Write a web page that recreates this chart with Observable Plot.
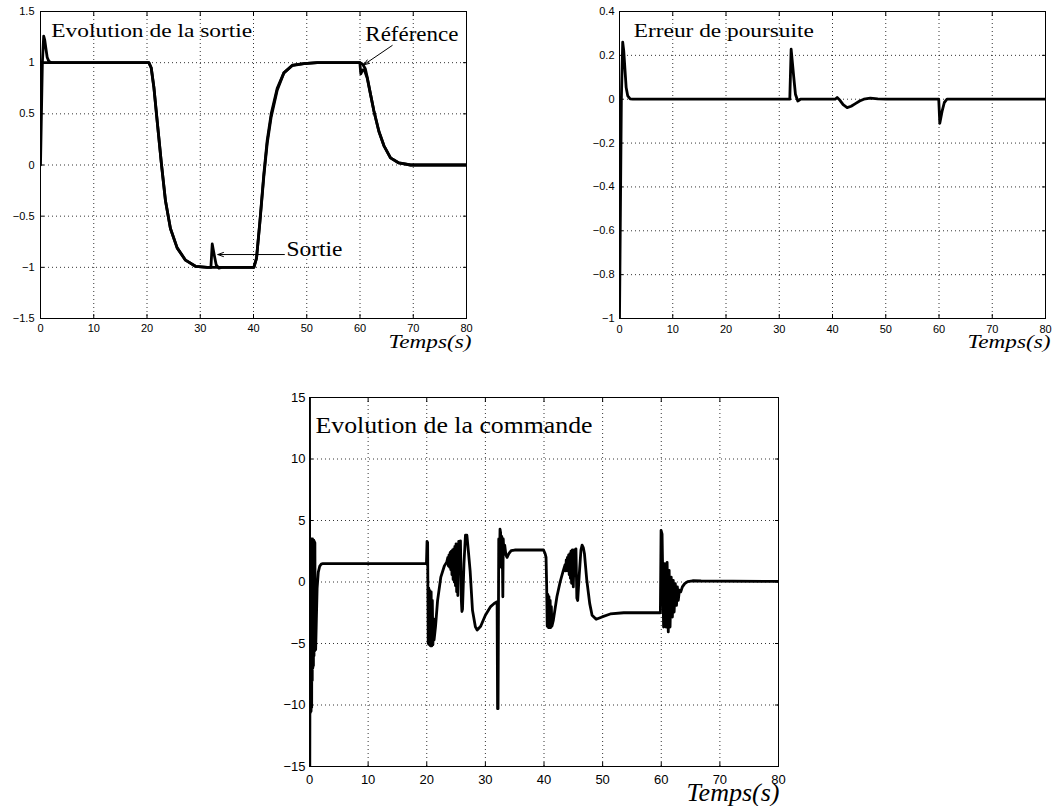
<!DOCTYPE html>
<html><head><meta charset="utf-8">
<script src="https://cdn.jsdelivr.net/npm/d3@7"></script>
<script src="https://cdn.jsdelivr.net/npm/@observablehq/plot@0.6"></script>
<style>
body{margin:0;background:#fff;}
#root{position:relative;width:1054px;height:806px;overflow:hidden;background:#fff;}
#root svg{position:absolute;}
</style></head><body><div id="root"></div>
<script>
// ---------- Ticks ----------
const xTicks = [0, 10, 20, 30, 40, 50, 60, 70, 80];
const sortieYTicks = [-1.5, -1, -0.5, 0, 0.5, 1, 1.5];
const erreurYTicks = [-1, -0.8, -0.6, -0.4, -0.2, 0, 0.2, 0.4];
const commandeYTicks = [-15, -10, -5, 0, 5, 10, 15];

// ---------- Texts ----------
const titleSortie = "Evolution de la sortie";
const titleErreur = "Erreur de poursuite";
const titleCommande = "Evolution de la commande";
const xLabel = "Temps(s)";
const labelReference = "Référence";
const labelSortie = "Sortie";

// ---------- Series: output (sortie) ----------
const sortieT = [0,0.35,0.6,0.8,1.0,1.25,1.55,2.0,2.5,
  20.35,20.79,21.29,21.91,22.73,23.47,24.4,25.66,27.23,29.1,31.3,
  32.0,32.25,32.7,33.0,33.5,34.0,
  40.07,40.57,41.2,41.94,42.57,43.32,44.45,45.7,47.27,49.46,51.96,
  59.97,60.15,60.5,60.8,61.35,61.98,62.6,63.54,64.48,65.73,67.3,69.5,80];
const sortieY = [0,1.0,1.26,1.22,1.145,1.053,1.015,1.002,1.0,
  1.0,0.95,0.76,0.43,0,-0.35,-0.62,-0.81,-0.93,-0.99,-1.0,
  -1.0,-0.772,-0.9,-0.977,-1.008,-1.0,
  -1.0,-0.91,-0.56,-0.11,0.21,0.47,0.73,0.9,0.975,0.99,1.0,
  1.0,0.89,0.93,0.93,0.85,0.69,0.53,0.33,0.19,0.07,0.02,0,0];

// ---------- Series: reference ----------
const referenceT = [0,20.35,20.79,21.29,21.91,22.73,23.47,24.4,25.66,27.23,29.1,31.3,
  40.07,40.57,41.2,41.94,42.57,43.32,44.45,45.7,47.27,49.46,51.96,
  60.0,60.5,61.0,61.35,61.98,62.6,63.54,64.48,65.73,67.3,69.5,80];
const referenceY = [1,1,0.95,0.76,0.43,0,-0.35,-0.62,-0.81,-0.93,-0.99,-1,
  -1,-0.91,-0.55,-0.09,0.24,0.50,0.75,0.90,0.97,0.99,1,
  1,0.985,0.94,0.86,0.69,0.53,0.33,0.19,0.07,0.02,0,0];

// ---------- Series: tracking error ----------
const erreurT = [0,0.35,0.6,0.8,1.0,1.25,1.55,2.0,2.5,
  31.98,32.23,32.73,33.04,33.48,33.98,
  40.5,40.87,41.4,42.0,42.75,43.5,44.3,45.1,45.88,47.1,48.5,50.0,
  59.95,60.15,60.6,61.0,61.5,80];
const erreurE = [-1,0,0.26,0.22,0.145,0.053,0.015,0.002,0,
  0,0.228,0.099,0.023,-0.008,0,
  0,0.008,-0.005,-0.025,-0.038,-0.032,-0.02,-0.008,0,0.005,0.002,0,
  0,-0.11,-0.053,-0.015,0,0];

// ---------- Series: control (commande) ----------
const commandeT = [0,0.05,0.12,0.17,0.22,0.27,0.32,0.37,0.42,0.47,0.52,0.57,0.62,0.67,0.72,0.77,0.82,0.87,0.92,0.97,1.05,1.15,1.3,1.5,1.75,2.0,2.3,
  19.95,20.05,20.15,20.25,20.35,20.45,20.55,20.65,20.75,20.85,20.95,21.05,21.15,21.25,21.5,21.85,22.4,23.0,23.4,
  23.6,23.7,23.8,23.9,24.0,24.1,24.2,24.3,24.4,24.5,24.6,24.7,24.8,24.9,25.0,25.1,25.2,25.3,25.45,25.6,25.75,25.9,26.0,26.1,26.35,26.6,26.85,27.1,27.4,27.8,28.3,28.6,29.2,30.0,30.9,31.5,32.0,
  32.08,32.16,32.28,32.4,32.5,32.6,32.7,32.8,32.9,32.98,33.05,33.15,33.3,33.5,33.7,34.0,34.4,35.0,39.92,
  40.2,40.35,40.45,40.55,40.65,40.75,40.85,40.95,41.05,41.15,41.25,41.35,41.6,42.2,42.75,43.3,
  43.6,43.7,43.8,43.9,44.0,44.1,44.2,44.3,44.4,44.5,44.6,44.7,44.85,45.0,45.15,45.3,45.45,45.6,45.75,46.0,46.3,46.5,46.7,46.9,47.3,47.8,48.2,48.9,49.9,51.3,53.6,59.85,
  59.97,60.14,60.4,60.6,60.8,61.0,61.2,61.35,61.5,61.7,61.9,62.05,62.2,62.4,62.6,62.75,62.9,63.1,63.33,63.6,64.0,64.5,65.35,66.8,80];
const commandeU = [16,-15,3.5,-10.6,3.4,-10.5,3.5,-10.2,3.4,-8,3.5,-7,3.3,-6.8,3.4,-6,3.3,-5.6,3.2,-5.5,-5.5,-3.5,-0.5,0.8,1.3,1.45,1.5,
  1.5,3.3,3.2,-5.0,-0.5,-5.1,-0.7,-5.2,-0.8,-5.2,-1.5,-5.1,-3.0,-4.7,-3.6,-1.5,0.4,1.3,1.6,
  2.0,1.3,2.2,1.2,2.4,1.0,2.5,0.6,2.6,0.2,2.7,0.0,2.9,-0.3,3.1,-0.8,2.9,-1.1,3.3,1.5,3.35,-1.5,-2.4,-2.2,1.5,3.8,3.8,2.5,0.9,-2.3,-3.65,-3.9,-3.6,-2.7,-2.0,-1.75,-1.6,
  -10.3,-10.3,3.5,1.5,4.3,4.0,1.2,3.7,2.0,-1.2,3.5,2.5,3.0,2.2,2.0,2.3,2.55,2.6,2.6,
  2.3,2.0,-0.2,-3.6,-1.0,-3.7,-1.2,-3.7,-1.5,-3.7,-2.0,-3.6,-3.1,-1.2,0.0,0.95,
  1.4,0.9,1.8,1.0,2.0,0.9,2.2,0.6,2.3,0.3,2.5,-0.1,2.6,-0.4,2.6,0.5,2.7,-1.3,-1.5,0.5,2.6,3.0,2.8,2.3,0.14,-1.76,-2.7,-3.03,-2.84,-2.6,-2.5,-2.5,
  4.2,3.9,-3.66,1.5,-3.66,1.6,-4.06,0.95,-3.66,0.4,-2.85,0.14,-2.44,-0.13,-1.9,-0.4,-1.5,-0.67,-0.8,-0.4,-0.13,0.03,0.1,0.08,0.05];

const zip = (T, V) => T.map((t, i) => ({t, v: V[i]}));
const fmt = d => String(d).replace("-", "\u2212");

function stretch(svg, lengths) {
  svg.querySelectorAll("text").forEach(el => {
    const L = lengths[el.textContent];
    if (L) { el.setAttribute("textLength", L); el.setAttribute("lengthAdjust", "spacingAndGlyphs"); }
  });
}

function panel(cfg) {
  const serif = "Liberation Serif";
  const grid = {stroke: "#000", strokeOpacity: 1, strokeWidth: 0.8, strokeDasharray: "1,3"};
  const marks = [
    Plot.gridX(xTicks, grid),
    Plot.gridY(cfg.yTicks, grid),
    Plot.axisX(xTicks, {tickSize: 0, tickPadding: cfg.xPad, label: null, fill: "#000", tickFormat: fmt}),
    Plot.axisX(xTicks, {tickSize: -4, fill: "none", label: null, stroke: "#000"}),
    Plot.axisX(xTicks, {anchor: "top", tickSize: -4, fill: "none", label: null, stroke: "#000"}),
    Plot.axisY(cfg.yTicks, {tickSize: 0, tickPadding: cfg.yPad, label: null, fill: "#000", tickFormat: fmt}),
    Plot.axisY(cfg.yTicks, {tickSize: -4, fill: "none", label: null, stroke: "#000"}),
    Plot.axisY(cfg.yTicks, {anchor: "right", tickSize: -4, fill: "none", label: null, stroke: "#000"}),
    ...cfg.series.map(s => Plot.line(s, {x: "t", y: "v", stroke: "#000", strokeWidth: 2.8, clip: true, strokeLinejoin: "round"})),
    Plot.frame({stroke: "#000", strokeWidth: 1}),
    Plot.text([cfg.title], {frameAnchor: "top-left", dx: cfg.titleDx, dy: cfg.titleDy, textAnchor: "start", lineAnchor: "bottom",
      fontFamily: serif, fontSize: cfg.titleSize, fill: "#000"}),
    Plot.text([xLabel], {frameAnchor: "bottom-right", dx: cfg.xlabDx, dy: cfg.xlabDy, textAnchor: "end", lineAnchor: "bottom",
      fontFamily: serif, fontStyle: "italic", fontSize: cfg.xlabSize, fill: "#000"}),
    ...(cfg.extra || [])
  ];
  const svg = Plot.plot({
    width: cfg.w, height: cfg.h,
    marginLeft: cfg.ml, marginTop: cfg.mt, marginRight: cfg.mr, marginBottom: cfg.mb,
    x: {domain: [0, 80], axis: null},
    y: {domain: cfg.yDomain, axis: null},
    style: {fontFamily: "Liberation Sans", fontSize: cfg.tickSize + "px", color: "#000", background: "transparent", overflow: "visible"},
    marks
  });
  svg.style.left = cfg.left + "px";
  svg.style.top = cfg.top + "px";
  stretch(svg, cfg.lengths);
  document.getElementById("root").appendChild(svg);
}

// Panel 1 : output
panel({
  left: 0, top: 0, w: 480, h: 360, ml: 40, mt: 11, mr: 14, mb: 42,
  yDomain: [-1.5, 1.5], yTicks: sortieYTicks, tickSize: 11, xPad: 6, yPad: 6,
  series: [zip(referenceT, referenceY), zip(sortieT, sortieY)],
  title: titleSortie, titleDx: 10.7, titleDy: 25.7, titleSize: 19,
  xlabDx: 5, xlabDy: 29.5, xlabSize: 18,
  lengths: {[titleSortie]: 201, [xLabel]: 83, [labelReference]: 93, [labelSortie]: 56},
  extra: [
    Plot.arrow([0], {x1: 66.05, y1: 1.168, x2: 60.7, y2: 0.979, stroke: "#000", strokeWidth: 1, headLength: 9, headAngle: 40}),
    Plot.arrow([0], {x1: 45.8, y1: -0.875, x2: 33.3, y2: -0.875, stroke: "#000", strokeWidth: 1, headLength: 9, headAngle: 40}),
    Plot.text([labelReference], {x: 61.0, y: 1.21, textAnchor: "start", lineAnchor: "bottom", fontFamily: "Liberation Serif", fontSize: 20, fill: "#000"}),
    Plot.text([labelSortie], {x: 46.2, y: -0.885, textAnchor: "start", lineAnchor: "bottom", fontFamily: "Liberation Serif", fontSize: 21, fill: "#000"})
  ]
});

// Panel 2 : tracking error
panel({
  left: 580, top: 0, w: 474, h: 360, ml: 39, mt: 11, mr: 9, mb: 42,
  yDomain: [-1, 0.4], yTicks: erreurYTicks, tickSize: 11, xPad: 7, yPad: 5,
  series: [zip(erreurT, erreurE)],
  title: titleErreur, titleDx: 14.3, titleDy: 25.7, titleSize: 19,
  xlabDx: 5, xlabDy: 29.5, xlabSize: 18,
  lengths: {[titleErreur]: 180, [xLabel]: 83}
});

// Panel 3 : control
panel({
  left: 260, top: 380, w: 540, h: 426, ml: 49, mt: 17, mr: 22, mb: 40,
  yDomain: [-15, 15], yTicks: commandeYTicks, tickSize: 13, xPad: 8, yPad: 4,
  series: [zip(commandeT, commandeU)],
  title: titleCommande, titleDx: 6, titleDy: 35.7, titleSize: 24,
  xlabDx: 1, xlabDy: 34.7, xlabSize: 25,
  lengths: {[titleCommande]: 277, [xLabel]: 93}
});
</script>
</body></html>
